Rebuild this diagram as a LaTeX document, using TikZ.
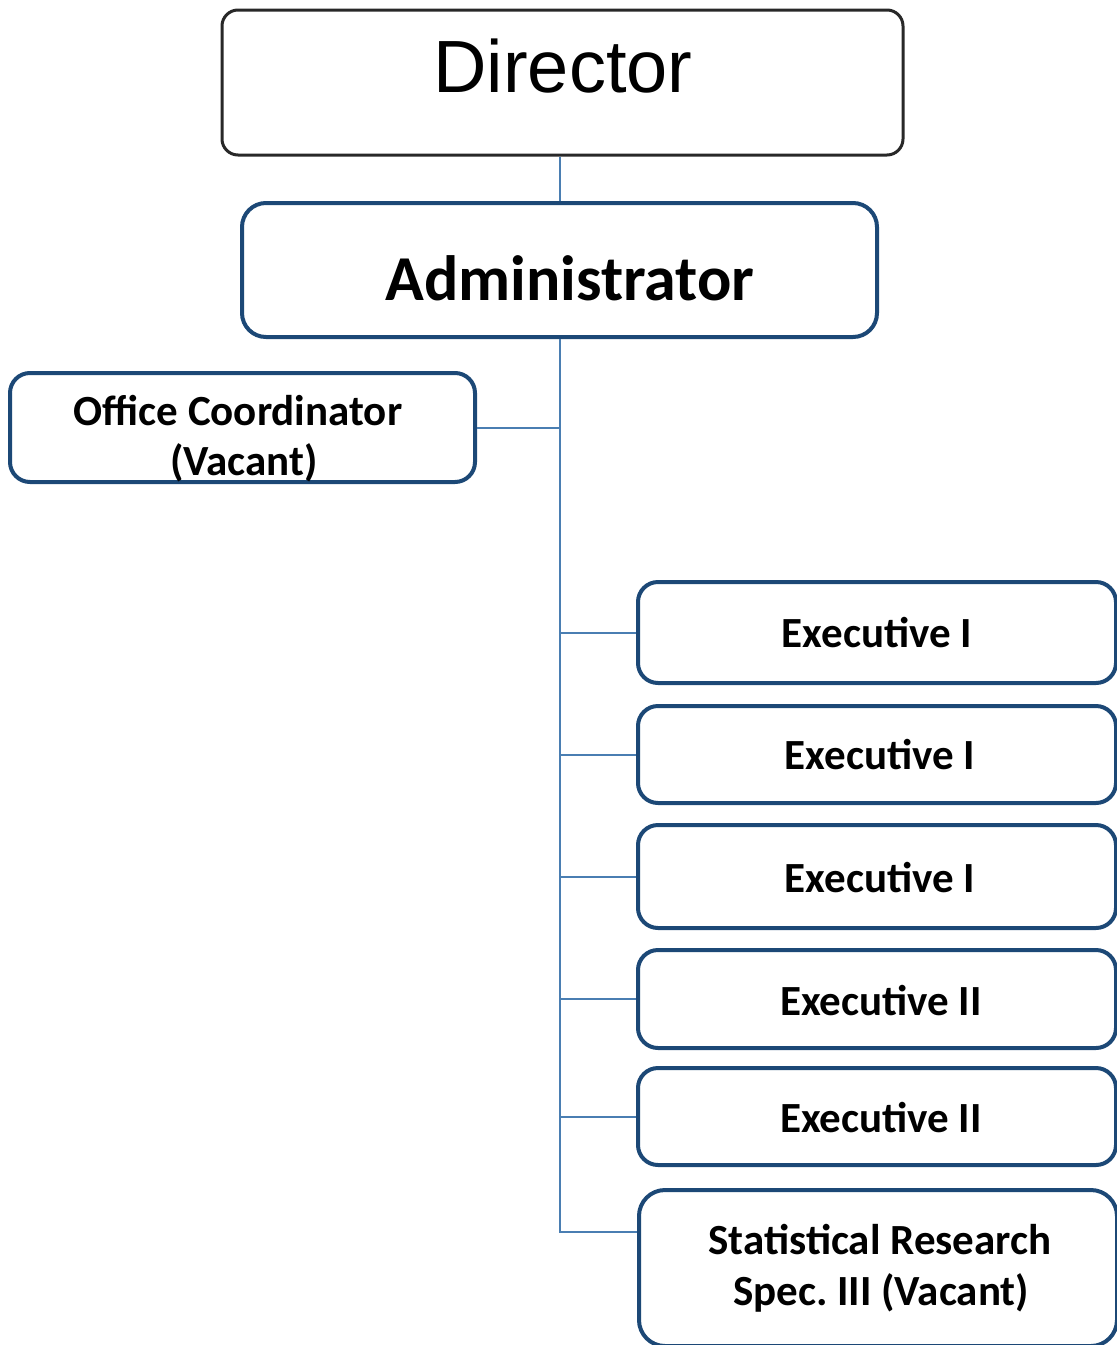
\documentclass[tikz,border=0pt]{standalone}
\usepackage{fontspec}
\setmainfont{Carlito}
\newfontfamily\arialfont{Liberation Sans}
\definecolor{boxblue}{RGB}{28,72,118}
\definecolor{linkblue}{RGB}{74,126,178}
\definecolor{dirgray}{RGB}{40,40,40}
\tikzset{
  dirbox/.style={draw=dirgray, line width=1.5pt, rounded corners=8pt, fill=white},
  bluebox/.style={draw=boxblue, line width=2pt, rounded corners=10pt, fill=white},
  link/.style={draw=linkblue, line width=1pt},
  exectext/.style={font=\bfseries\fontsize{21.5}{24}\selectfont, align=center},
}
\begin{document}
\begin{tikzpicture}[x=0.5pt,y=-0.5pt]
\useasboundingbox (0,0) rectangle (1117,1345);
\clip (0,0) rectangle (1117,1345);
% boxes
\node[dirbox, minimum width=340.5pt, minimum height=72.5pt] (dir) at (562.5,82.5) {};
\node[bluebox, rounded corners=12pt, minimum width=317.5pt, minimum height=67pt] (adm) at (559.5,270) {};
\node[bluebox, minimum width=232.5pt, minimum height=54.5pt] (oc) at (242.5,427.5) {};
\node[bluebox, minimum width=239pt, minimum height=50.5pt] (e1) at (877,632.5) {};
\node[bluebox, minimum width=239pt, minimum height=48.5pt] (e2) at (877,754.5) {};
\node[bluebox, minimum width=239pt, minimum height=51.5pt] (e3) at (877,876.5) {};
\node[bluebox, minimum width=239pt, minimum height=49pt] (e4) at (877,999) {};
\node[bluebox, minimum width=239pt, minimum height=48.5pt] (e5) at (877,1116.5) {};
\node[bluebox, rounded corners=13pt, minimum width=239pt, minimum height=78pt] (st) at (878,1268) {};
% texts
\node[anchor=base, font=\arialfont\fontsize{37}{40}\selectfont] (dirt) at (563,92) {Director};
\node[anchor=base, font=\bfseries\fontsize{32}{34}\selectfont] (admt) at (570,300) {Administrator};
\node[anchor=base, exectext] (oct1) at (238,425) {Office Coordinator};
\node[anchor=base, exectext] (oct2) at (244,475) {(Vacant)};
\node[anchor=base, exectext] (e1t) at (877,647) {Executive I};
\node[anchor=base, exectext] (e2t) at (880,769) {Executive I};
\node[anchor=base, exectext] (e3t) at (880,892) {Executive I};
\node[anchor=base, exectext] (e4t) at (881,1015) {Executive II};
\node[anchor=base, exectext] (e5t) at (881,1132) {Executive II};
\node[anchor=base, exectext] (stt1) at (880,1254) {Statistical Research};
\node[anchor=base, exectext] (stt2) at (881,1305) {Spec.\ III (Vacant)};
% connectors
\coordinate (tb) at (560,1232);
\draw[link] (adm.north |- dir.south) -- (adm.north);
\draw[link] (adm.south) -- (adm.south |- tb) -- (st.west |- tb);
\draw[link] (oc.east) -- (oc.east -| adm.south);
\foreach \e in {e1,e2,e3,e4,e5}{
  \draw[link] (\e.west) -- (\e.west -| adm.south);
}
\end{tikzpicture}
\end{document}
